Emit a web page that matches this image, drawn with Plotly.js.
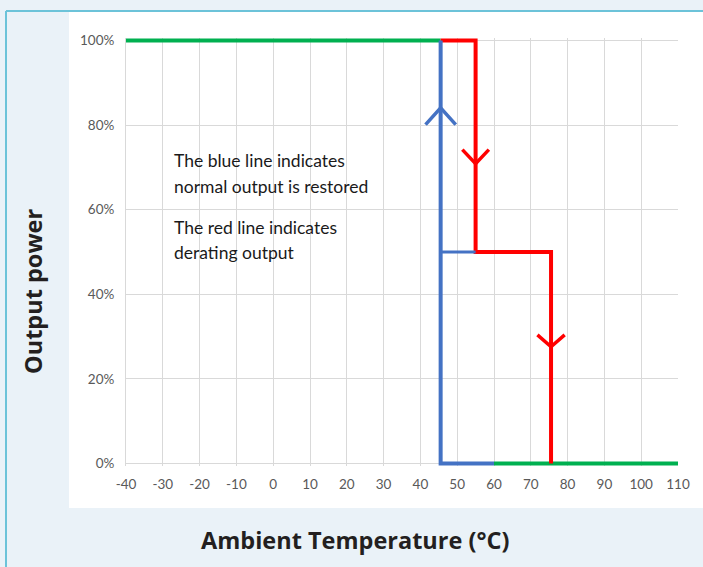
<!DOCTYPE html>
<html>
<head>
<meta charset="utf-8">
<script src="https://cdn.plot.ly/plotly-3.0.1.min.js"></script>
<style>
  html, body { margin: 0; padding: 0; background: #eaf2f8; }
  #chart { width: 703px; height: 567px; }
</style>
</head>
<body>
<div id="chart"></div>
<script>
// ---- data (temperature in °C, output power in %) ----
const greenHighX = [-40, 45.5];
const greenHighY = [100, 100];
const greenLowX = [60, 110];
const greenLowY = [0, 0];

const redX = [45.5, 55, 55, 75.5, 75.5];
const redY = [100, 100, 50, 50, 0];

const blueX = [60, 45.5, 45.5];
const blueY = [0, 0, 100];
const blueMidX = [45.5, 55];
const blueMidY = [50, 50];

// direction arrows (chevrons)
const blueArrowX = [41.4, 45.5, 49.6];
const blueArrowY = [80.1, 84.1, 80.1];
const redArrow1X = [51.4, 55, 58.6];
const redArrow1Y = [74.2, 70.9, 74.2];
const redArrow2X = [71.8, 75.5, 79.2];
const redArrow2Y = [30.4, 27.6, 30.4];

const xTicks = [-40, -30, -20, -10, 0, 10, 20, 30, 40, 50, 60, 70, 80, 90, 100, 110];
const yTicks = [0, 20, 40, 60, 80, 100];
const yTickLabels = ['0%', '20%', '40%', '60%', '80%', '100%'];

const noteLines = [
  'The blue line indicates',
  'normal output is restored',
  'The red line indicates',
  'derating output'
];
const noteY = [71.6, 65.6, 55.8, 49.9];
const noteX = -27.6;

const xTitle = 'Ambient Temperature (°C)';
const yTitle = 'Output power';

// ---- colours ----
const GREEN = '#00b050', RED = '#ff0000', BLUE = '#4472c4';
const LW = 4;

function seg(x, y, color, w) {
  return { x: x, y: y, type: 'scatter', mode: 'lines', hoverinfo: 'skip',
           line: { color: color, width: w || LW }, showlegend: false };
}

const traces = [
  seg(greenHighX, greenHighY, GREEN),
  seg(greenLowX, greenLowY, GREEN),
  seg(redX, redY, RED),
  seg(redArrow1X, redArrow1Y, RED, 3.5),
  seg(redArrow2X, redArrow2Y, RED, 3.5),
  seg(blueX, blueY, BLUE),
  seg(blueMidX, blueMidY, BLUE, 3),
  seg(blueArrowX, blueArrowY, BLUE, 3.5)
];

// plot area: left 126, right 678, top 38, bottom 466
const PL = 126, PW = 552, PB = 466, PH = 428;
const px2x = p => (p - PL) / PW;
const px2y = p => (PB - p) / PH;

const annotations = noteLines.map((t, i) => ({
  text: t, x: noteX, y: noteY[i], xref: 'x', yref: 'y',
  xanchor: 'left', yanchor: 'middle', showarrow: false,
  font: { family: 'Lato, sans-serif', size: 17.5, color: '#1a1a1a' }
}));
annotations.push({
  text: '<b>' + xTitle + '</b>', xref: 'paper', yref: 'paper',
  x: px2x(355), y: px2y(540), xanchor: 'center', yanchor: 'middle', showarrow: false,
  font: { family: 'Open Sans, sans-serif', size: 23.5, color: '#231f20' }
});
annotations.push({
  text: '<b>' + yTitle + '</b>', xref: 'paper', yref: 'paper',
  x: px2x(33), y: px2y(292), xanchor: 'center', yanchor: 'middle', showarrow: false,
  textangle: -90,
  font: { family: 'Open Sans, sans-serif', size: 23.5, color: '#231f20' }
});

const shapes = [
  // white panel
  { type: 'rect', xref: 'paper', yref: 'paper', layer: 'below',
    x0: px2x(69), x1: px2x(720), y0: px2y(508), y1: px2y(12),
    fillcolor: '#ffffff', line: { width: 0 } },
  // teal frame (left and top)
  { type: 'line', xref: 'paper', yref: 'paper', layer: 'above',
    x0: px2x(6), x1: px2x(6), y0: px2y(11), y1: px2y(600),
    line: { color: '#6cc3d9', width: 2 } },
  { type: 'line', xref: 'paper', yref: 'paper', layer: 'above',
    x0: px2x(6), x1: px2x(720), y0: px2y(11), y1: px2y(11),
    line: { color: '#6cc3d9', width: 2 } }
];

const layout = {
  width: 703, height: 567,
  margin: { l: PL, r: 703 - PL - PW, t: 38, b: 567 - PB },
  paper_bgcolor: '#eaf2f8',
  plot_bgcolor: '#ffffff',
  showlegend: false,
  xaxis: {
    range: [-40, 110], tickvals: xTicks, ticktext: xTicks.map(String),
    showgrid: true, gridcolor: '#d9d9d9', gridwidth: 1,
    zeroline: false, showline: false, ticks: '',
    ticklabelstandoff: 8,
    tickfont: { family: 'Lato, sans-serif', size: 13.5, color: '#595959' },
    fixedrange: true
  },
  yaxis: {
    range: [-0.6, 100.6], tickvals: yTicks, ticktext: yTickLabels,
    showgrid: true, gridcolor: '#d9d9d9', gridwidth: 1,
    zeroline: true, zerolinecolor: '#d9d9d9', zerolinewidth: 1,
    showline: true, linecolor: '#d9d9d9', linewidth: 1,
    ticks: '', ticklabelstandoff: 8,
    tickfont: { family: 'Lato, sans-serif', size: 13.5, color: '#595959' },
    fixedrange: true
  },
  annotations: annotations,
  shapes: shapes
};

Plotly.newPlot('chart', traces, layout, { displayModeBar: false, staticPlot: true });
</script>
</body>
</html>
